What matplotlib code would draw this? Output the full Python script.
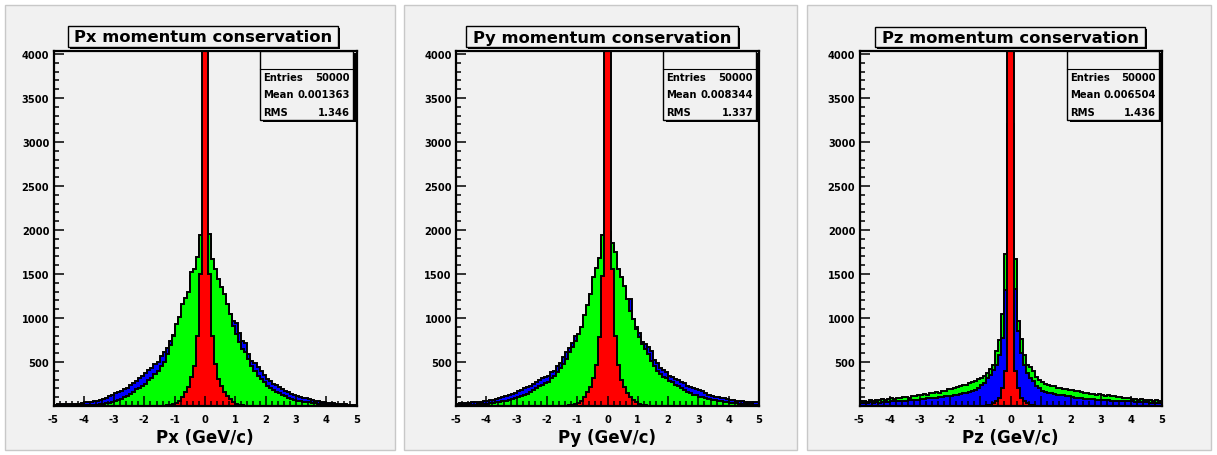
import numpy as np
import matplotlib
matplotlib.use("Agg")
import matplotlib.pyplot as plt
from matplotlib.patches import Rectangle
from matplotlib.ticker import MultipleLocator, FixedLocator

plt.rcParams.update({
    "font.family": "DejaVu Sans",
    "font.weight": "bold",
    "axes.unicode_minus": False,
})

W, H = 1217, 456
EDGES = np.linspace(-5, 5, 101)

# ---- Px panel: 100 bins from -5 to 5 ----
px_blue = [
    16, 18, 20, 19, 22, 22, 25, 28, 27, 32,
    40, 45, 50, 56, 62, 72, 82, 94, 108, 122,
    145, 160, 172, 188, 205, 238, 258, 285, 315, 345,
    372, 410, 432, 478, 505, 572, 610, 662, 735, 810,
    900, 980, 1120, 1190, 1260, 1480, 1520, 1650, 1900, 1950,
    1950, 1900, 1620, 1510, 1400, 1320, 1250, 1150, 1050, 962,
    940, 830, 740, 720, 590, 508, 490, 440, 402, 352,
    308, 285, 252, 234, 216, 192, 172, 156, 142, 126,
    116, 104, 96, 88, 80, 70, 62, 56, 50, 45,
    38, 33, 29, 26, 23, 20, 18, 16, 14, 12,
]
px_green = [
    2, 2, 3, 3, 4, 4, 5, 6, 7, 8,
    9, 10, 12, 13, 15, 20, 24, 30, 36, 44,
    60, 72, 84, 100, 112, 140, 162, 192, 210, 232,
    255, 290, 320, 365, 400, 458, 500, 590, 690, 800,
    932, 1008, 1159, 1224, 1299, 1519, 1557, 1690, 1943, 1990,
    1990, 1950, 1670, 1557, 1443, 1348, 1273, 1159, 1045, 913,
    818, 724, 648, 610, 534, 458, 401, 344, 307, 273,
    225, 200, 180, 160, 145, 128, 108, 92, 82, 72,
    62, 56, 50, 44, 40, 34, 29, 25, 21, 18,
    15, 12, 10, 8, 7, 6, 5, 4, 3, 3,
]
px_red = [
    0, 0, 0, 0, 0, 0, 0, 0, 0, 0,
    0, 0, 0, 0, 0, 0, 0, 0, 0, 0,
    0, 0, 0, 0, 0, 0, 0, 0, 0, 0,
    0, 0, 0, 0, 0, 1, 3, 6, 12, 22,
    38, 62, 99, 155, 212, 326, 458, 800, 1500, 6000,
    6000, 1500, 800, 477, 307, 231, 163, 117, 80, 45,
    25, 12, 6, 3, 1, 0, 0, 0, 0, 0,
    0, 0, 0, 0, 0, 0, 0, 0, 0, 0,
    0, 0, 0, 0, 0, 0, 0, 0, 0, 0,
    0, 0, 0, 0, 0, 0, 0, 0, 0, 0,
]

# ---- Py panel ----
py_blue = [
    28, 30, 32, 34, 36, 42, 44, 46, 50, 52,
    60, 64, 72, 78, 86, 100, 108, 120, 136, 148,
    170, 182, 200, 212, 232, 250, 276, 290, 316, 326,
    345, 390, 398, 458, 488, 560, 612, 660, 718, 790,
    810, 880, 1020, 1130, 1250, 1440, 1540, 1650, 1900, 1950,
    1950, 1820, 1720, 1530, 1440, 1340, 1200, 1216, 989, 900,
    825, 728, 700, 665, 630, 525, 490, 435, 405, 390,
    345, 332, 310, 295, 270, 258, 232, 220, 200, 190,
    178, 166, 144, 126, 116, 106, 100, 94, 88, 82,
    70, 66, 62, 58, 54, 48, 46, 44, 42, 40,
]
py_green = [
    8, 9, 10, 11, 12, 14, 16, 18, 20, 22,
    27, 31, 36, 40, 45, 52, 58, 66, 78, 90,
    104, 116, 128, 142, 160, 180, 200, 222, 240, 258,
    276, 314, 344, 383, 428, 477, 534, 610, 667, 743,
    818, 894, 1034, 1148, 1273, 1462, 1565, 1677, 1943, 1980,
    1980, 1852, 1746, 1557, 1462, 1367, 1216, 1083, 989, 875,
    780, 705, 648, 591, 515, 458, 401, 364, 330, 314,
    285, 268, 240, 222, 200, 186, 162, 148, 130, 120,
    104, 98, 92, 76, 72, 68, 56, 52, 48, 44,
    36, 33, 30, 28, 25, 22, 20, 18, 16, 14,
]
py_red = [
    0, 0, 0, 0, 0, 0, 0, 0, 0, 0,
    0, 0, 0, 0, 0, 0, 0, 0, 0, 0,
    0, 0, 0, 0, 0, 0, 0, 0, 0, 0,
    0, 0, 0, 0, 0, 1, 3, 6, 12, 22,
    38, 62, 99, 155, 212, 320, 470, 780, 1480, 6000,
    6000, 1557, 800, 470, 300, 215, 150, 105, 72, 42,
    22, 12, 6, 3, 1, 0, 0, 0, 0, 0,
    0, 0, 0, 0, 0, 0, 0, 0, 0, 0,
    0, 0, 0, 0, 0, 0, 0, 0, 0, 0,
    0, 0, 0, 0, 0, 0, 0, 0, 0, 0,
]

# ---- Pz panel ----
pz_blue = [
    34, 38, 32, 40, 36, 42, 38, 46, 44, 50,
    52, 56, 54, 60, 58, 62, 66, 64, 70, 72,
    76, 82, 88, 86, 92, 96, 100, 104, 110, 112,
    118, 124, 130, 136, 145, 152, 162, 172, 185, 205,
    242, 261, 318, 356, 413, 470, 583, 773, 1322, 2800,
    2800, 1333, 848, 602, 470, 375, 318, 280, 224, 205,
    167, 160, 152, 144, 136, 129, 124, 120, 115, 110,
    98, 94, 90, 86, 84, 80, 78, 75, 72, 72,
    70, 66, 64, 62, 60, 58, 56, 55, 54, 53,
    52, 48, 46, 44, 42, 40, 38, 36, 35, 34,
]
pz_green = [
    55, 62, 50, 64, 58, 70, 66, 76, 68, 82,
    86, 80, 92, 90, 98, 104, 96, 112, 108, 120,
    126, 138, 130, 150, 152, 160, 150, 168, 176, 188,
    198, 206, 216, 226, 234, 244, 256, 268, 284, 302,
    320, 345, 380, 420, 470, 621, 754, 1045, 1727, 3200,
    3200, 1674, 970, 765, 583, 470, 440, 400, 330, 290,
    269, 255, 240, 232, 224, 205, 200, 195, 190, 186,
    180, 172, 166, 158, 152, 148, 142, 138, 130, 136,
    126, 118, 122, 112, 108, 104, 98, 94, 90, 86,
    82, 76, 72, 78, 68, 64, 70, 60, 66, 58,
]
pz_red = [
    0, 0, 0, 0, 0, 0, 0, 0, 0, 0,
    0, 0, 0, 0, 0, 0, 0, 0, 0, 0,
    0, 0, 0, 0, 0, 0, 0, 0, 0, 0,
    0, 0, 0, 0, 0, 0, 0, 0, 0, 0,
    2, 4, 8, 16, 34, 53, 91, 205, 394, 6000,
    6000, 394, 205, 91, 53, 34, 16, 8, 4, 2,
    0, 0, 0, 0, 0, 0, 0, 0, 0, 0,
    0, 0, 0, 0, 0, 0, 0, 0, 0, 0,
    0, 0, 0, 0, 0, 0, 0, 0, 0, 0,
    0, 0, 0, 0, 0, 0, 0, 0, 0, 0,
]

titles = ["Px momentum conservation", "Py momentum conservation", "Pz momentum conservation"]
xlabels = ["Px (GeV/c)", "Py (GeV/c)", "Pz (GeV/c)"]
entries = ["50000", "50000", "50000"]
means = ["0.001363", "0.008344", "0.006504"]
rms = ["1.346", "1.337", "1.436"]
blues = [px_blue, py_blue, pz_blue]
greens = [px_green, py_green, pz_green]
reds = [px_red, py_red, pz_red]

yticks = [500, 1000, 1500, 2000, 2500, 3000, 3500, 4000]
xticks = [-5, -4, -3, -2, -1, 0, 1, 2, 3, 4, 5]

# layout in pixels (x0, y0, x1, y1), y measured from the top
pads = [(5, 6, 395, 451), (404, 6, 797, 451), (807, 6, 1211, 451)]
frames = [(53.5, 52, 356.5, 407), (456, 52, 759, 407), (859.5, 52, 1161.5, 407)]
title_boxes = [(68, 27, 338, 48), (466, 27, 738, 48), (875, 28, 1145, 48)]
stat_boxes = [(260, 52, 353, 121), (663, 52, 756, 121), (1067, 52, 1159, 121)]

GREY = "#f1f1f1"
YMAX = 4034


def frac(box):
    x0, y0, x1, y1 = box
    return [x0 / W, 1 - y1 / H, (x1 - x0) / W, (y1 - y0) / H]


fig = plt.figure(figsize=(W / 100, H / 100), dpi=100)
fig.patch.set_facecolor("white")

bg = fig.add_axes([0, 0, 1, 1], zorder=0)
bg.set_xlim(0, W)
bg.set_ylim(H, 0)
bg.axis("off")

ov = fig.add_axes([0, 0, 1, 1], zorder=5)
ov.set_xlim(0, W)
ov.set_ylim(H, 0)
ov.axis("off")
ov.patch.set_alpha(0)

for k in range(3):
    x0, y0, x1, y1 = pads[k]
    bg.add_patch(Rectangle((x0, y0), x1 - x0, y1 - y0, facecolor=GREY,
                           edgecolor="#c8c8c8", linewidth=1))

    ax = fig.add_axes(frac(frames[k]), zorder=1)
    ax.set_facecolor(GREY)
    layers = [(blues[k], "#0000ff"), (greens[k], "#00ff00")]
    if k == 2:
        # Pz: the wider green histogram sits behind the blue one
        layers = layers[::-1]
    layers.append((reds[k], "#ff0000"))
    for vals, col in layers:
        ax.stairs(vals, EDGES, fill=True, facecolor=col, edgecolor="black", linewidth=1.4)
    ax.set_xlim(-5, 5)
    ax.set_ylim(0, YMAX)

    ax.xaxis.set_major_locator(FixedLocator(xticks))
    ax.xaxis.set_minor_locator(MultipleLocator(0.2))
    ax.yaxis.set_major_locator(FixedLocator(yticks))
    ax.yaxis.set_minor_locator(MultipleLocator(100))
    ax.set_xticklabels([str(t) for t in xticks])
    ax.set_yticklabels([str(t) for t in yticks])
    ax.tick_params(which="both", direction="in", top=False, right=False, width=1.1)
    ax.tick_params(which="major", length=7.2, labelsize=7.1)
    ax.tick_params(which="minor", length=3.6)
    ax.tick_params(axis="x", which="major", pad=6)
    ax.tick_params(axis="y", which="major", pad=3)
    for s in ax.spines.values():
        s.set_linewidth(1.6)
    ax.set_xlabel(xlabels[k], fontsize=12, fontweight="bold", labelpad=3)

    # title box with shadow
    tx0, ty0, tx1, ty1 = title_boxes[k]
    ov.add_patch(Rectangle((tx0 + 2, ty0 + 2), tx1 - tx0, ty1 - ty0, facecolor="black", edgecolor="none"))
    ov.add_patch(Rectangle((tx0, ty0), tx1 - tx0, ty1 - ty0, facecolor=GREY, edgecolor="black", linewidth=1))
    ov.text((tx0 + tx1) / 2, (ty0 + ty1) / 2 + 0.5, titles[k], ha="center", va="center",
            fontsize=11.8, fontweight="bold")

    # stats box with shadow
    sx0, sy0, sx1, sy1 = stat_boxes[k]
    ov.add_patch(Rectangle((sx0 + 3, sy0 + 2), sx1 - sx0, sy1 - sy0, facecolor="black", edgecolor="none"))
    ov.add_patch(Rectangle((sx0, sy0), sx1 - sx0, sy1 - sy0, facecolor=GREY, edgecolor="black", linewidth=1))
    ov.plot([sx0, sx1], [sy0 + 18, sy0 + 18], color="black", linewidth=0.8)
    rows = [("Entries", entries[k]), ("Mean", means[k]), ("RMS", rms[k])]
    for r, (lab, val) in enumerate(rows):
        yy = sy0 + 26 + r * 17.5
        ov.text(sx0 + 3, yy, lab, ha="left", va="center", fontsize=7.2, fontweight="bold")
        ov.text(sx1 - 3, yy, val, ha="right", va="center", fontsize=7.2, fontweight="bold")

fig.savefig("out.png", dpi=100, facecolor="white")
